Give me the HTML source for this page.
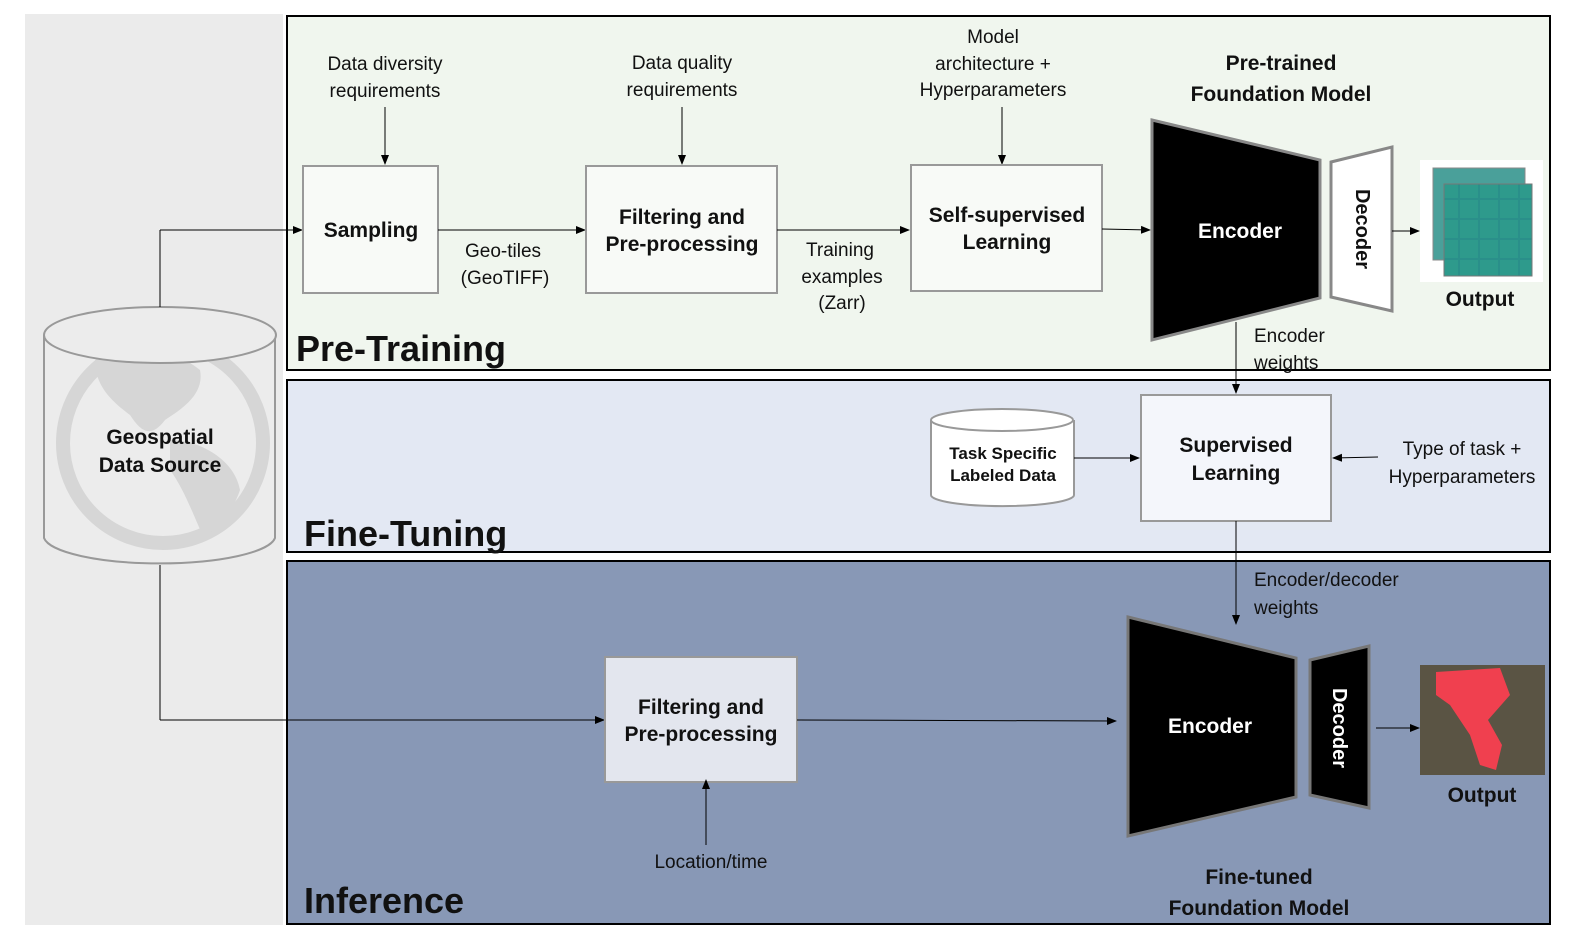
<!DOCTYPE html>
<html><head><meta charset="utf-8"><style>
html,body{margin:0;padding:0;background:#fff}
svg{display:block}
text{font-family:"Liberation Sans",sans-serif;fill:#111}
.n{font-size:19px}
.b{font-size:21px;font-weight:bold}
.h{font-size:36px;font-weight:bold}
</style></head><body>
<svg width="1573" height="945" viewBox="0 0 1573 945" xmlns="http://www.w3.org/2000/svg">
<defs>
<marker id="a" markerWidth="10" markerHeight="10" refX="9" refY="5" orient="auto" markerUnits="userSpaceOnUse"><path d="M0,1 L10,5 L0,9 z" fill="#000"/></marker>
<pattern id="g" width="20" height="20" patternUnits="userSpaceOnUse"><rect width="20" height="20" fill="#2a8f8a"/><rect x="0" y="0" width="18" height="18" fill="#2e9a8c"/></pattern>
</defs>
<rect x="25" y="14" width="258" height="911" fill="#ebebeb"/>
<rect x="287" y="16" width="1263" height="354" fill="#f0f6ee" stroke="#000" stroke-width="2"/>
<rect x="287" y="380" width="1263" height="172" fill="#e3e8f3" stroke="#000" stroke-width="2"/>
<rect x="287" y="561" width="1263" height="363" fill="#8898b6" stroke="#000" stroke-width="2"/>

<!-- cylinder -->
<path d="M44,335 L44,538 A116,28 0 0 0 275,538 L275,335" fill="#ececec" stroke="#999" stroke-width="2"/>
<circle cx="163" cy="443" r="100" fill="none" stroke="#d6d6d6" stroke-width="14"/>
<path d="M95,360 C120,345 170,345 200,370 C205,395 180,410 165,420 C150,440 140,430 130,415 C110,400 95,385 95,360z M170,440 C200,440 235,460 240,490 C230,520 210,530 205,540 C195,520 185,490 170,470z" fill="#d6d6d6"/>
<ellipse cx="160" cy="335" rx="116" ry="28" fill="#ececec" stroke="#999" stroke-width="2"/>
<text class="b" x="160" y="444" text-anchor="middle">Geospatial</text>
<text class="b" x="160" y="472" text-anchor="middle">Data Source</text>
<line x1="160" y1="307" x2="160" y2="230" stroke="#000"/>
<line x1="160" y1="230" x2="302" y2="230" stroke="#000" marker-end="url(#a)"/>
<line x1="160" y1="565" x2="160" y2="720" stroke="#000"/>
<line x1="160" y1="720" x2="604" y2="720" stroke="#000" marker-end="url(#a)"/>

<!-- pretraining -->
<text class="n" x="385" y="70" text-anchor="middle">Data diversity</text>
<text class="n" x="385" y="97" text-anchor="middle">requirements</text>
<line x1="385" y1="107" x2="385" y2="164" stroke="#000" marker-end="url(#a)"/>
<rect x="303" y="166" width="135" height="127" fill="#f8faf7" stroke="#999" stroke-width="2"/>
<text class="b" x="371" y="237" text-anchor="middle">Sampling</text>
<line x1="438" y1="230" x2="585" y2="230" stroke="#000" marker-end="url(#a)"/>
<text class="n" x="503" y="257" text-anchor="middle">Geo-tiles</text>
<text class="n" x="505" y="284" text-anchor="middle">(GeoTIFF)</text>
<text class="n" x="682" y="69" text-anchor="middle">Data quality</text>
<text class="n" x="682" y="96" text-anchor="middle">requirements</text>
<line x1="682" y1="107" x2="682" y2="164" stroke="#000" marker-end="url(#a)"/>
<rect x="586" y="166" width="191" height="127" fill="#f8faf7" stroke="#999" stroke-width="2"/>
<text class="b" x="682" y="224" text-anchor="middle">Filtering and</text>
<text class="b" x="682" y="251" text-anchor="middle">Pre-processing</text>
<line x1="777" y1="230" x2="909" y2="230" stroke="#000" marker-end="url(#a)"/>
<text class="n" x="840" y="256" text-anchor="middle">Training</text>
<text class="n" x="842" y="283" text-anchor="middle">examples</text>
<text class="n" x="842" y="309" text-anchor="middle">(Zarr)</text>
<text class="n" x="993" y="43" text-anchor="middle">Model</text>
<text class="n" x="993" y="70" text-anchor="middle">architecture +</text>
<text class="n" x="993" y="96" text-anchor="middle">Hyperparameters</text>
<line x1="1002" y1="107" x2="1002" y2="164" stroke="#000" marker-end="url(#a)"/>
<rect x="911" y="165" width="191" height="126" fill="#f8faf7" stroke="#999" stroke-width="2"/>
<text class="b" x="1007" y="222" text-anchor="middle">Self-supervised</text>
<text class="b" x="1007" y="249" text-anchor="middle">Learning</text>
<line x1="1102" y1="229" x2="1150" y2="230" stroke="#000" marker-end="url(#a)"/>
<text class="b" x="1281" y="70" text-anchor="middle">Pre-trained</text>
<text class="b" x="1281" y="101" text-anchor="middle">Foundation Model</text>
<polygon points="1152,120 1320,160 1320,298 1152,340" fill="#000" stroke="#888" stroke-width="3"/>
<text class="b" x="1240" y="238" text-anchor="middle" style="fill:#fff">Encoder</text>
<polygon points="1331,162 1392,147 1392,311 1331,297" fill="#fff" stroke="#888" stroke-width="3"/>
<text class="b" transform="translate(1356,229) rotate(90)" text-anchor="middle" style="font-size:20px">Decoder</text>
<line x1="1392" y1="231" x2="1419" y2="231" stroke="#000" marker-end="url(#a)"/>
<rect x="1420" y="160" width="123" height="122" fill="#fff"/>
<rect x="1433" y="168" width="92" height="92" fill="#4aa09a" stroke="#888"/>
<rect x="1444" y="184" width="88" height="92" fill="url(#g)" stroke="#777"/>
<text class="b" x="1480" y="306" text-anchor="middle">Output</text>
<text class="h" x="296" y="361">Pre-Training</text>
<line x1="1236" y1="322" x2="1236" y2="393" stroke="#000" marker-end="url(#a)"/>
<text class="n" x="1254" y="342">Encoder</text>
<text class="n" x="1254" y="369">weights</text>

<!-- fine tuning -->
<path d="M931,420 L931,495 A71,11 0 0 0 1074,495 L1074,420" fill="#fff" stroke="#999" stroke-width="2"/>
<ellipse cx="1002" cy="420" rx="71" ry="11" fill="#fff" stroke="#999" stroke-width="2"/>
<text x="1003" y="459" text-anchor="middle" style="font-size:17px;font-weight:bold">Task Specific</text>
<text x="1003" y="481" text-anchor="middle" style="font-size:17px;font-weight:bold">Labeled Data</text>
<line x1="1074" y1="458" x2="1139" y2="458" stroke="#000" marker-end="url(#a)"/>
<rect x="1141" y="395" width="190" height="126" fill="#f4f6fb" stroke="#999" stroke-width="2"/>
<text class="b" x="1236" y="452" text-anchor="middle">Supervised</text>
<text class="b" x="1236" y="480" text-anchor="middle">Learning</text>
<line x1="1378" y1="457" x2="1333" y2="458" stroke="#000" marker-end="url(#a)"/>
<text class="n" x="1462" y="455" text-anchor="middle">Type of task +</text>
<text class="n" x="1462" y="483" text-anchor="middle">Hyperparameters</text>
<text class="h" x="304" y="546">Fine-Tuning</text>
<line x1="1236" y1="521" x2="1236" y2="624" stroke="#000" marker-end="url(#a)"/>
<text class="n" x="1254" y="586">Encoder/decoder</text>
<text class="n" x="1254" y="614">weights</text>

<!-- inference -->
<rect x="605" y="657" width="192" height="125" fill="#e3e6ee" stroke="#999" stroke-width="2"/>
<text class="b" x="701" y="714" text-anchor="middle">Filtering and</text>
<text class="b" x="701" y="741" text-anchor="middle">Pre-processing</text>
<line x1="706" y1="845" x2="706" y2="780" stroke="#000" marker-end="url(#a)"/>
<text class="n" x="711" y="868" text-anchor="middle">Location/time</text>
<line x1="797" y1="720" x2="1116" y2="721" stroke="#000" marker-end="url(#a)"/>
<polygon points="1128,617 1296,658 1296,797 1128,836" fill="#000" stroke="#777" stroke-width="3"/>
<text class="b" x="1210" y="733" text-anchor="middle" style="fill:#fff">Encoder</text>
<polygon points="1310,660 1369,646 1369,808 1310,795" fill="#000" stroke="#777" stroke-width="3"/>
<text class="b" transform="translate(1333,728) rotate(90)" text-anchor="middle" style="font-size:20px;fill:#fff">Decoder</text>
<line x1="1376" y1="728" x2="1419" y2="728" stroke="#000" marker-end="url(#a)"/>
<rect x="1420" y="665" width="125" height="110" fill="#5a5444"/>
<path d="M1436,672 L1500,668 L1510,695 L1488,720 L1502,745 L1496,770 L1480,765 L1470,735 L1450,705 L1436,695z" fill="#f0404f"/>
<text class="b" x="1482" y="802" text-anchor="middle">Output</text>
<text class="b" x="1259" y="884" text-anchor="middle">Fine-tuned</text>
<text class="b" x="1259" y="915" text-anchor="middle">Foundation Model</text>
<text class="h" x="304" y="913">Inference</text>
</svg>
</body></html>
